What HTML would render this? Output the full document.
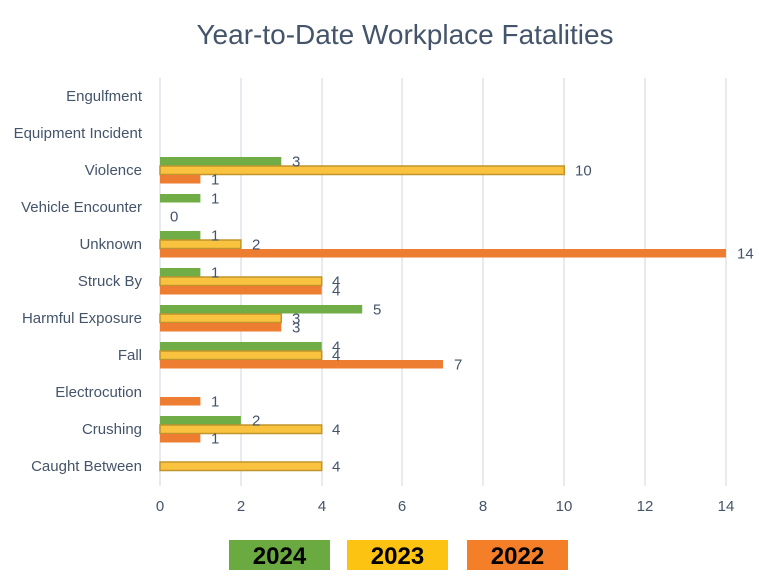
<!DOCTYPE html>
<html><head><meta charset="utf-8"><style>body{margin:0;background:#fff}svg{display:block}</style></head><body>
<svg width="759" height="582" xmlns="http://www.w3.org/2000/svg" font-family="Liberation Sans, sans-serif">
<rect width="759" height="582" fill="#fff"/>
<text x="405" y="44" font-size="28" fill="#44546a" text-anchor="middle">Year-to-Date Workplace Fatalities</text>
<g stroke="#d9dde3" stroke-width="1.2">
<line x1="160" y1="78" x2="160" y2="486"/><line x1="241" y1="78" x2="241" y2="486"/><line x1="322" y1="78" x2="322" y2="486"/><line x1="402" y1="78" x2="402" y2="486"/><line x1="483" y1="78" x2="483" y2="486"/><line x1="564" y1="78" x2="564" y2="486"/><line x1="645" y1="78" x2="645" y2="486"/><line x1="726" y1="78" x2="726" y2="486"/>
</g>
<g font-size="15" fill="#44546a" text-anchor="middle">
<text x="160" y="511">0</text><text x="241" y="511">2</text><text x="322" y="511">4</text><text x="402" y="511">6</text><text x="483" y="511">8</text><text x="564" y="511">10</text><text x="645" y="511">12</text><text x="726" y="511">14</text>
</g>
<g font-size="15" fill="#44546a" text-anchor="end">
<text x="142" y="101">Engulfment</text><text x="142" y="138">Equipment Incident</text><text x="142" y="175">Violence</text><text x="142" y="212">Vehicle Encounter</text><text x="142" y="249">Unknown</text><text x="142" y="286">Struck By</text><text x="142" y="323">Harmful Exposure</text><text x="142" y="360">Fall</text><text x="142" y="397">Electrocution</text><text x="142" y="434">Crushing</text><text x="142" y="471">Caught Between</text>
</g>
<g fill="#70ad47">
<rect x="160" y="157" width="121.3" height="8.5"/>
<rect x="160" y="194" width="40.4" height="8.5"/>
<rect x="160" y="231" width="40.4" height="8.5"/>
<rect x="160" y="268" width="40.4" height="8.5"/>
<rect x="160" y="305" width="202.2" height="8.5"/>
<rect x="160" y="342" width="161.7" height="8.5"/>
<rect x="160" y="416" width="80.9" height="8.5"/>
</g>
<g fill="#f9c33f" stroke="#c0952b" stroke-width="1.5">
<rect x="160" y="166" width="404.3" height="8.5"/>
<rect x="160" y="240" width="80.9" height="8.5"/>
<rect x="160" y="277" width="161.7" height="8.5"/>
<rect x="160" y="314" width="121.3" height="8.5"/>
<rect x="160" y="351" width="161.7" height="8.5"/>
<rect x="160" y="425" width="161.7" height="8.5"/>
<rect x="160" y="462" width="161.7" height="8.5"/>
</g>
<g fill="#ed7d31">
<rect x="160" y="175" width="40.4" height="8.5"/>
<rect x="160" y="249" width="566" height="8.5"/>
<rect x="160" y="286" width="161.7" height="8.5"/>
<rect x="160" y="323" width="121.3" height="8.5"/>
<rect x="160" y="360" width="283" height="8.5"/>
<rect x="160" y="397" width="40.4" height="8.5"/>
<rect x="160" y="434" width="40.4" height="8.5"/>
</g>
<g font-size="15" fill="#44546a">
<text x="292" y="166.5">3</text><text x="575" y="175.5">10</text><text x="211" y="184.5">1</text>
<text x="211" y="203.5">1</text><text x="170" y="221.5">0</text>
<text x="211" y="240.5">1</text><text x="252" y="249.5">2</text><text x="737" y="258.5">14</text>
<text x="211" y="277.5">1</text><text x="332" y="286.5">4</text><text x="332" y="295.5">4</text>
<text x="373" y="314.5">5</text><text x="292" y="323.5">3</text><text x="292" y="332.5">3</text>
<text x="332" y="351.5">4</text><text x="332" y="360.5">4</text><text x="454" y="369.5">7</text>
<text x="211" y="406.5">1</text>
<text x="252" y="425.5">2</text><text x="332" y="434.5">4</text><text x="211" y="443.5">1</text>
<text x="332" y="471.5">4</text>
</g>
<rect x="229" y="540" width="101" height="30" fill="#6aaa41"/><rect x="347" y="540" width="101" height="30" fill="#fdc312"/><rect x="467" y="540" width="101" height="30" fill="#f57f28"/>
<g font-size="24" font-weight="bold" text-anchor="middle" fill="#000">
<text x="279.5" y="564">2024</text><text x="397.5" y="564">2023</text><text x="517.5" y="564">2022</text>
</g>
</svg>
</body></html>
